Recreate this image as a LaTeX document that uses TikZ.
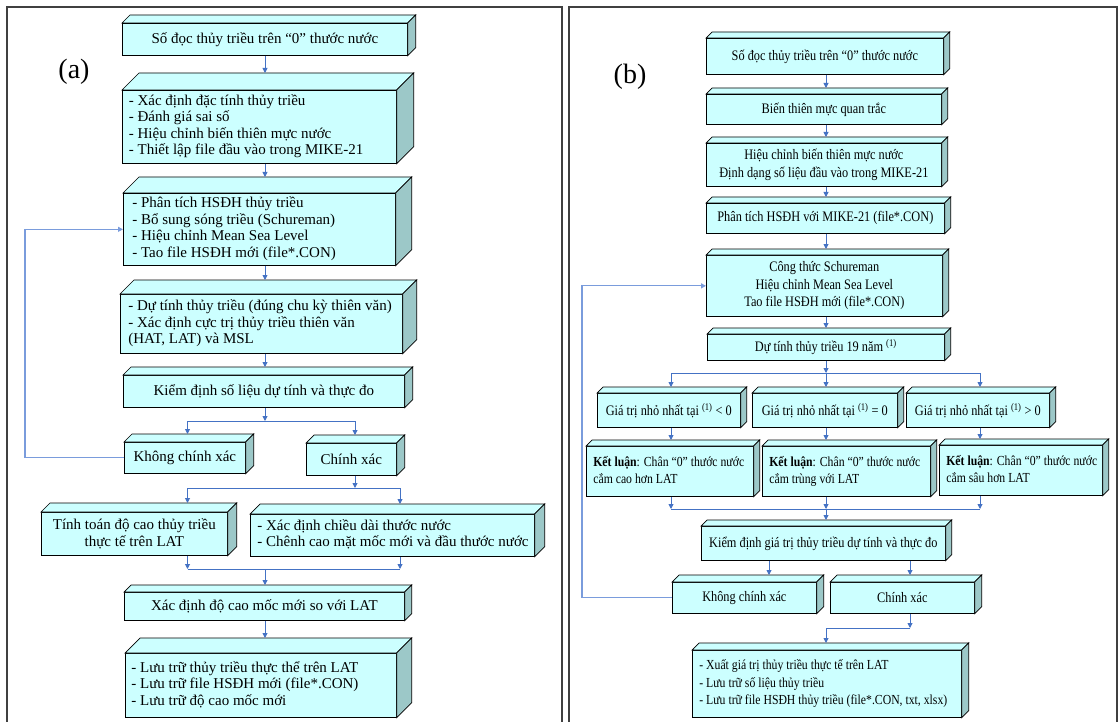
\documentclass[tikz,border=0pt]{standalone}
\usepackage{fontspec}
\setmainfont{Liberation Serif}
\newfontfamily\narrowfnt[FakeStretch=0.85]{Liberation Serif}
\usetikzlibrary{arrows.meta,calc}
\definecolor{cfront}{HTML}{CCFFFF}
\definecolor{ctop}{HTML}{CCFFFF}
\definecolor{cside}{HTML}{9CC8C8}
\definecolor{carrow}{HTML}{4472C4}
\definecolor{cfeed}{HTML}{7A9CDC}
\definecolor{cframe}{HTML}{404040}
\newcommand\leftfnt{\fontsize{15}{16.5}\selectfont}
\newcommand\rightfnt{\narrowfnt\fontsize{14.5}{17.5}\selectfont}
\newcommand\concfnt{\narrowfnt\fontsize{13.8}{17.5}\selectfont}
\newcommand\leftlines[2]{\makebox[#1pt][l]{\begin{tabular}{@{}l@{}}#2\end{tabular}}}
\tikzset{
  cubefront/.style={draw=black, line width=0.7pt, fill=cfront, inner sep=0pt, anchor=north west, font=\leftfnt, align=center},
  cubeedge/.style={draw=black, line width=0.7pt, line join=miter},
  arr/.style={draw=carrow, line width=0.9pt, -{Triangle[length=5pt,width=5pt]}},
  link/.style={draw=carrow, line width=0.9pt},
  feed/.style={draw=cfeed, line width=1.1pt, -{Triangle[length=5pt,width=5pt]}},
  frame/.style={draw=cframe, line width=1.5pt},
  rbox/.style={font=\rightfnt},
  cbox/.style={font=\concfnt},
  panellabel/.style={font=\fontsize{28}{32}\selectfont, inner sep=0pt},
}
% #1 options, #2 name, #3 x, #4 y, #5 width, #6 height, #7 depth, #8 text
\newcommand\cubebox[8][]{%
  \node[cubefront, minimum width=#5pt, minimum height=#6pt, #1] (#2) at (#3,#4) {#8};
  \draw[cubeedge, fill=ctop] (#2.north west) -- ++(#7pt,#7pt) -- ([shift={(#7pt,#7pt)}]#2.north east) -- (#2.north east) -- cycle;
  \draw[cubeedge, fill=cside] (#2.north east) -- ++(#7pt,#7pt) -- ([shift={(#7pt,#7pt)}]#2.south east) -- (#2.south east) -- cycle;
  \coordinate (#2-top) at ([shift={(0.5*#7pt,#7pt)}]#2.north);
}
\begin{document}
\begin{tikzpicture}[x=1pt,y=-1pt]
\useasboundingbox (0,0) rectangle (1119,722);
\fill[white] (0,0) rectangle (1119,722);
% panels
\draw[frame] (7,722) -- (7,7) -- (562,7) -- (562,722);
\draw[frame] (569,722) -- (569,7) -- (1117,7) -- (1117,722);
\node[panellabel] (lblA) at (74,72) {(a)};
\node[panellabel] (lblB) at (630,77) {(b)};

% ---------- left panel ----------
\cubebox{L1}{122}{23}{285}{32}{8}{Số đọc thủy triều trên “0” thước nước}
\cubebox{L2}{122}{90}{274}{73}{17}{\leftlines{261}{- Xác định đặc tính thủy triều\\- Đánh giá sai số\\- Hiệu chỉnh biến thiên mực nước\\- Thiết lập file đầu vào trong MIKE-21}}
\cubebox{L3}{123}{193}{272}{72}{16}{\leftlines{254}{- Phân tích HSĐH thủy triều\\- Bổ sung sóng triều (Schureman)\\- Hiệu chỉnh Mean Sea Level\\- Tao file HSĐH mới (file*.CON)}}
\cubebox{L4}{120}{294}{282}{59}{14}{\leftlines{266}{- Dự tính thủy triều (đúng chu kỳ thiên văn)\\- Xác định cực trị thủy triều thiên văn\\(HAT, LAT) và MSL}}
\cubebox{L5}{123}{375}{281}{32}{8}{Kiểm định số liệu dự tính và thực đo}
\cubebox{L6}{124}{442}{121}{31}{8}{Không chính xác}
\cubebox{L7}{306}{443}{90}{32}{8}{Chính xác}
\cubebox{L8}{41}{512}{186}{43}{9}{Tính toán độ cao thủy triều\\thực tế trên LAT}
\cubebox{L9}{250}{514}{284}{42}{10}{\leftlines{270}{- Xác định chiều dài thước nước\\- Chênh cao mặt mốc mới và đầu thước nước}}
\cubebox{L10}{124}{592}{280}{28}{7}{Xác định độ cao mốc mới so với LAT}
\cubebox{L11}{125}{653}{271}{64}{15}{\leftlines{259}{- Lưu trữ thủy triều thực thể trên LAT\\- Lưu trữ file HSĐH mới (file*.CON)\\- Lưu trữ độ cao mốc mới}}

\coordinate (cA) at (265,0);
\coordinate (cL6) at (187.5,0);
\coordinate (cL7) at (355,0);
\coordinate (cL9) at (400,0);
\draw[arr] (L1.south -| cA) -- (L2-top -| cA);
\draw[arr] (L2.south -| cA) -- (L3-top -| cA);
\draw[arr] (L3.south -| cA) -- (L4-top -| cA);
\draw[arr] (L4.south -| cA) -- (L5-top -| cA);
\coordinate (j1) at (265,421);
\draw[arr] (L5.south -| cA) -- (j1);
\draw[link] (j1 -| cL6) -- (j1 -| cL7);
\draw[arr] (j1 -| cL6) -- (L6-top -| cL6);
\draw[arr] (j1 -| cL7) -- (L7-top -| cL7);
\coordinate (j2) at (355,488);
\draw[arr] (L7.south -| cL7) -- (j2);
\draw[link] (j2 -| cL6) -- (j2 -| cL9);
\draw[arr] (j2 -| cL6) -- (L8-top -| cL6);
\draw[arr] (j2 -| cL9) -- (L9-top -| cL9);
\coordinate (j3) at (265,569);
\draw[arr] (L8.south -| cL6) -- (j3 -| cL6);
\draw[arr] (L9.south -| cL9) -- (j3 -| cL9);
\draw[link] (j3 -| cL6) -- (j3 -| cL9);
\draw[arr] (j3) -- (L10-top -| cA);
\draw[arr] (L10.south -| cA) -- (L11-top -| cA);
\coordinate (fbL) at (25,300);
\draw[feed] (L6.west) -| (fbL) |- (L3.west);

% ---------- right panel ----------
\cubebox[rbox]{R1}{706}{38}{237}{36}{6}{Số đọc thủy triều trên “0” thước nước}
\cubebox[rbox]{R2}{706}{94}{235}{30}{6}{Biến thiên mực quan trắc}
\cubebox[rbox]{R3}{706}{143}{235}{43}{6}{Hiệu chỉnh biến thiên mực nước\\Định dạng số liệu đầu vào trong MIKE-21}
\cubebox[rbox]{R4}{706}{203}{238}{30}{6}{Phân tích HSĐH với MIKE-21 (file*.CON)}
\cubebox[rbox]{R5}{706}{255}{236}{61}{6}{Công thức Schureman\\Hiệu chỉnh Mean Sea Level\\Tao file HSĐH mới (file*.CON)}
\cubebox[rbox]{R6}{707}{334}{237}{26}{6}{Dự tính thủy triều 19 năm \textsuperscript{(1)}}
\cubebox[rbox]{R7a}{597}{393}{143}{34}{6}{Giá trị nhỏ nhất tại \textsuperscript{(1)} < 0}
\cubebox[rbox]{R7b}{752}{393}{145}{34}{6}{Giá trị nhỏ nhất tại \textsuperscript{(1)} = 0}
\cubebox[rbox]{R7c}{906}{393}{143}{34}{6}{Giá trị nhỏ nhất tại \textsuperscript{(1)} > 0}
\cubebox[cbox]{R8a}{586}{446}{167}{50}{6}{\leftlines{153}{\textbf{Kết luận}: Chân “0” thước nước\\cắm cao hơn LAT}}
\cubebox[cbox]{R8b}{762}{446}{168}{50}{6}{\leftlines{154}{\textbf{Kết luận}: Chân “0” thước nước\\cắm trùng với LAT}}
\cubebox[cbox]{R8c}{939}{445}{163}{50}{6}{\leftlines{149}{\textbf{Kết luận}: Chân “0” thước nước\\cắm sâu hơn LAT}}
\cubebox[rbox]{R9}{701}{526}{244}{34}{6}{Kiểm định giá trị thủy triều dự tính và thực đo}
\cubebox[rbox]{R10a}{672}{582}{144}{31}{7}{Không chính xác}
\cubebox[rbox]{R10b}{830}{582}{144}{31}{7}{Chính xác}
\cubebox[cbox]{R11}{692}{650}{269}{67}{7}{\leftlines{255}{- Xuất giá trị thủy triều thực tế trên LAT\\- Lưu trữ số liệu thủy triều\\- Lưu trữ file HSĐH thủy triều (file*.CON, txt, xlsx)}}

\coordinate (cB) at (826,0);
\coordinate (cRa) at (671,0);
\coordinate (cRc) at (980,0);
\coordinate (cRd) at (769,0);
\coordinate (cRe) at (910,0);
\draw[arr] (R1.south -| cB) -- (R2-top -| cB);
\draw[arr] (R2.south -| cB) -- (R3-top -| cB);
\draw[arr] (R3.south -| cB) -- (R4-top -| cB);
\draw[arr] (R4.south -| cB) -- (R5-top -| cB);
\draw[arr] (R5.south -| cB) -- (R6-top -| cB);
\coordinate (j4) at (826,373);
\draw[arr] (R6.south -| cB) -- (j4);
\draw[link] (j4 -| cRa) -- (j4 -| cRc);
\draw[arr] (j4 -| cRa) -- (R7a-top -| cRa);
\draw[arr] (j4) -- (R7b-top -| cB);
\draw[arr] (j4 -| cRc) -- (R7c-top -| cRc);
\draw[arr] (R7a.south -| cRa) -- (R8a-top -| cRa);
\draw[arr] (R7b.south -| cB) -- (R8b-top -| cB);
\draw[arr] (R7c.south -| cRc) -- (R8c-top -| cRc);
\coordinate (j5) at (826,509);
\draw[arr] (R8a.south -| cRa) -- (j5 -| cRa);
\draw[arr] (R8b.south -| cB) -- (j5);
\draw[arr] (R8c.south -| cRc) -- (j5 -| cRc);
\draw[link] (j5 -| cRa) -- (j5 -| cRc);
\draw[arr] (j5) -- (R9-top -| cB);
\draw[arr] (R9.south -| cRd) -- (R10a-top -| cRd);
\draw[arr] (R9.south -| cRe) -- (R10b-top -| cRe);
\coordinate (j6) at (910,628);
\draw[arr] (R10b.south -| cRe) -- (j6);
\draw[arr] (j6) -| (R11-top -| cB);
\coordinate (fbR) at (582,450);
\draw[feed] (R10a.west) -| (fbR) |- (R5.west);
\end{tikzpicture}
\end{document}
